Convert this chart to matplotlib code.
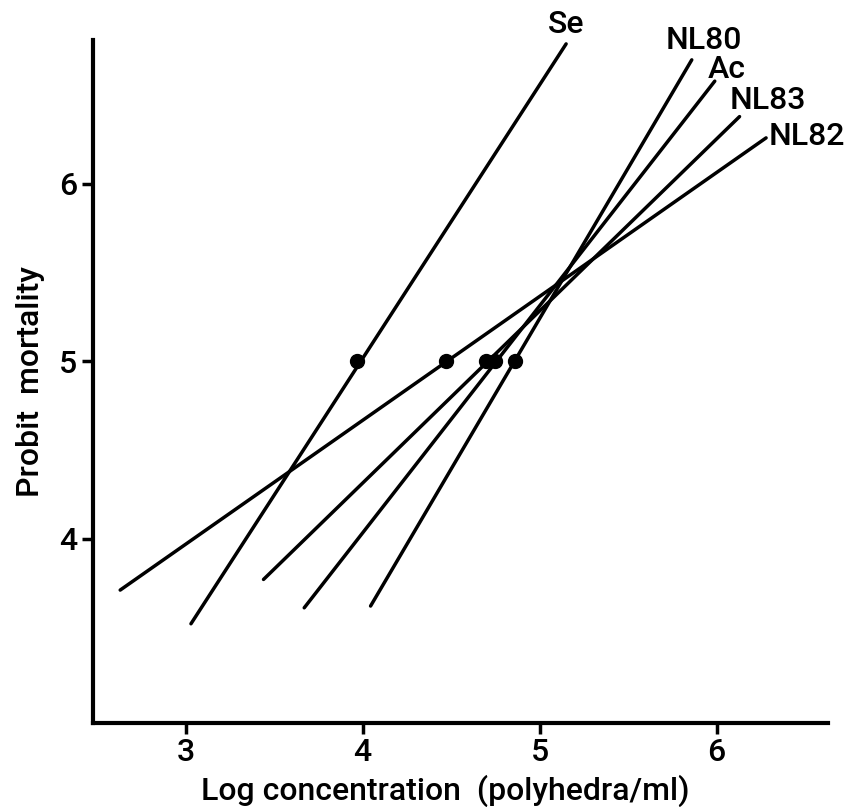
import matplotlib
matplotlib.use("Agg")
import matplotlib.pyplot as plt

# Probit regression lines (end points) and LC50 points
lines = ["Se", "NL80", "Ac", "NL83", "NL82"]
x_start = [3.03, 4.045, 3.67, 3.44, 2.63]
y_start = [3.52, 3.62, 3.61, 3.77, 3.71]
x_end = [5.15, 5.86, 5.99, 6.13, 6.28]
y_end = [6.79, 6.70, 6.58, 6.38, 6.26]
lc50_x = [3.97, 4.86, 4.75, 4.695, 4.47]
lc50_y = [5.0, 5.0, 5.0, 5.0, 5.0]
label_x = [5.15, 5.93, 6.06, 6.29, 6.51]
label_y = [6.90, 6.81, 6.645, 6.47, 6.27]

plt.rcParams['font.family'] = ['Roboto', 'DejaVu Sans']
plt.rcParams['font.weight'] = 'medium'
plt.rcParams['axes.labelweight'] = 'medium'
fig = plt.figure(figsize=(8.51, 8.07), dpi=100)
ax = fig.add_axes([0.109, 0.104, 0.864, 0.846])

for i in range(len(lines)):
    ax.plot([x_start[i], x_end[i]], [y_start[i], y_end[i]], color='black', lw=2.5,
            solid_capstyle='round')
    ax.text(label_x[i], label_y[i], lines[i], fontsize=23, ha='center', va='center',
            clip_on=False)
ax.plot(lc50_x, lc50_y, 'o', color='black', ms=10, ls='none')

ax.set_xlim(2.475, 6.63)
ax.set_ylim(2.96, 6.81)
ax.set_xticks([3, 4, 5, 6])
ax.set_yticks([4, 5, 6])
ax.spines['top'].set_visible(False)
ax.spines['right'].set_visible(False)
for s in ['left', 'bottom']:
    ax.spines[s].set_linewidth(3)
ax.tick_params(direction='out', length=8, width=2.5, labelsize=23, pad=3)
ax.set_xlabel("Log concentration  (polyhedra/ml)", fontsize=23, labelpad=5)
ax.xaxis.label.set_x(0.48)  # label sits a little left of centre in the original
ax.set_ylabel("Probit  mortality", fontsize=23, labelpad=10)

fig.savefig("out.png", dpi=100)
